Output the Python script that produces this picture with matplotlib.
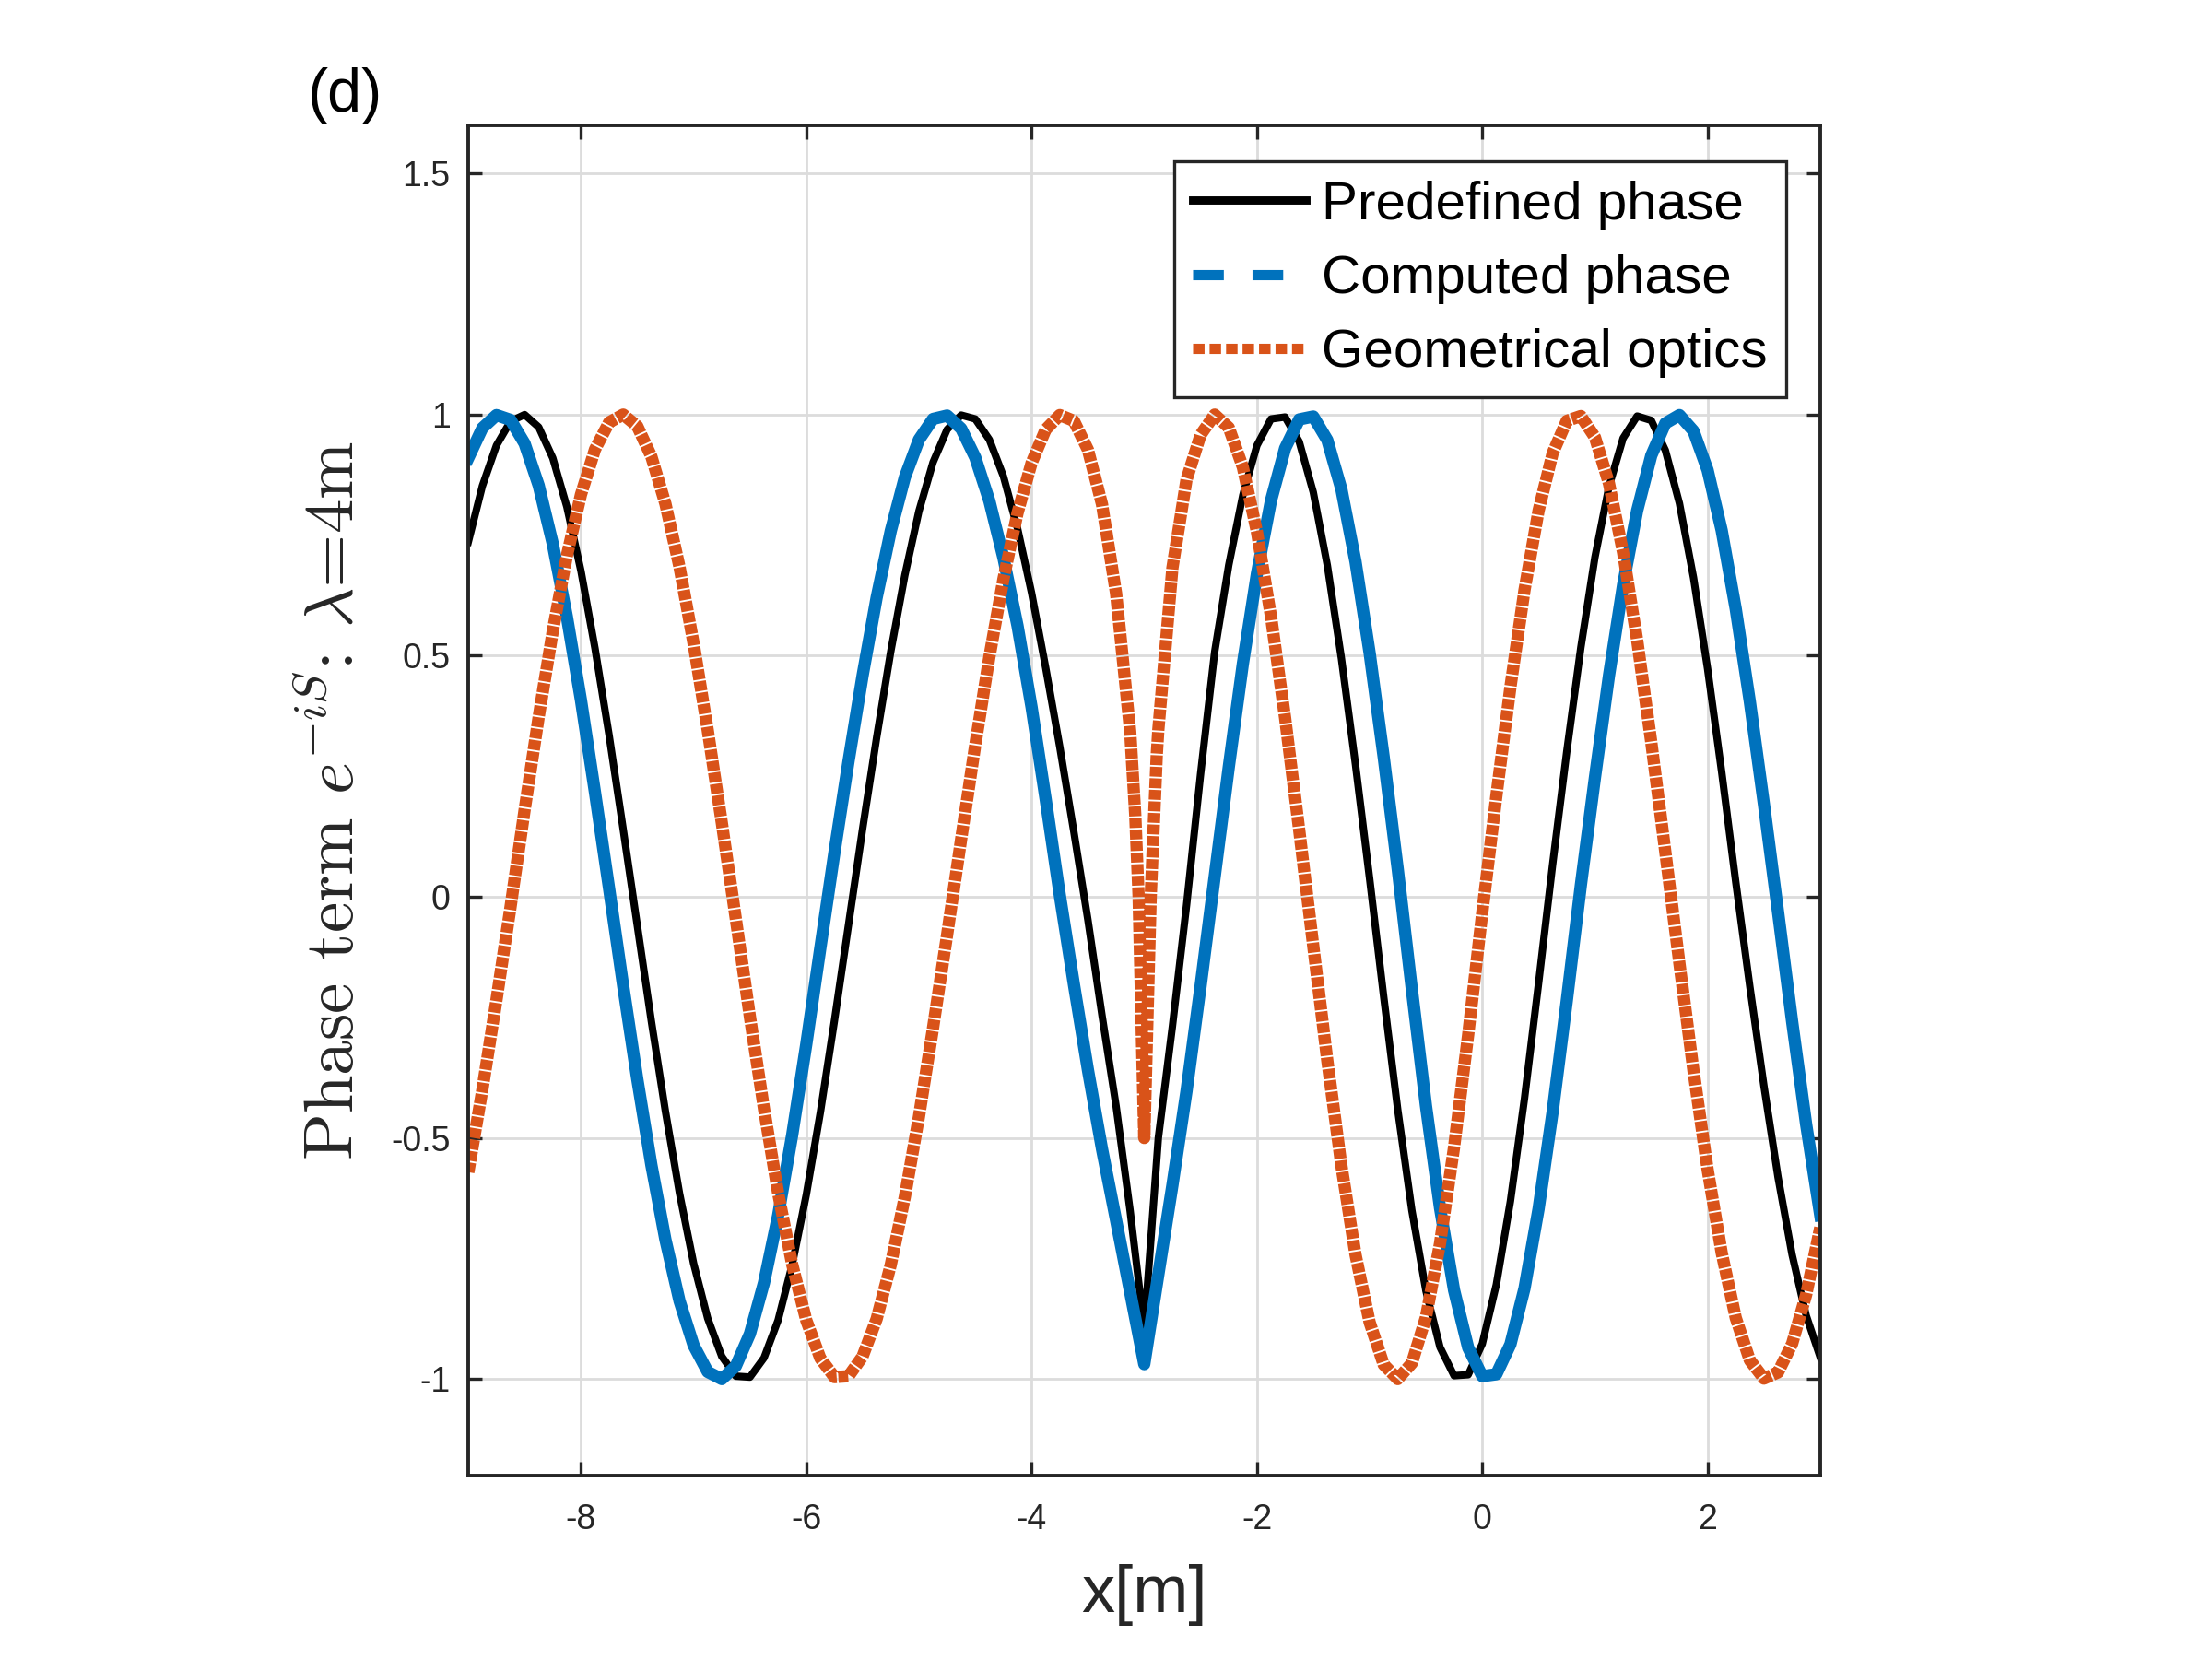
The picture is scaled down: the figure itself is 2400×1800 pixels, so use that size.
import numpy as np
import matplotlib.pyplot as plt
from matplotlib.lines import Line2D

# values every 0.125 m
x_samples = np.linspace(-9.0, 3.0, 97)

predefined_phase = [
    0.736, 0.852, 0.936, 0.986, 1.000, 0.974, 0.910, 0.809, 0.676, 0.515,
    0.335, 0.140, -0.059, -0.258, -0.445, -0.615, -0.760, -0.874, -0.953, -0.994,
    -0.996, -0.956, -0.878, -0.763, -0.618, -0.447, -0.257, -0.058, 0.141, 0.331,
    0.509, 0.667, 0.800, 0.901, 0.969, 0.999, 0.991, 0.948, 0.872, 0.764,
    0.630, 0.475, 0.311, 0.135, -0.048, -0.246, -0.434, -0.652, -0.896,
    -0.500, -0.268, -0.018, 0.255, 0.508, 0.688, 0.833, 0.936, 0.991, 0.995,
    0.944, 0.839, 0.687, 0.494, 0.274, 0.038, -0.207, -0.442, -0.650, -0.817,
    -0.934, -0.993, -0.991, -0.927, -0.804, -0.631, -0.418, -0.179, 0.068, 0.301,
    0.517, 0.704, 0.851, 0.951, 0.997, 0.988, 0.926, 0.816, 0.662, 0.473,
    0.259, 0.031, -0.186, -0.392, -0.581, -0.742, -0.868, -0.955,
]

computed_phase = [
    0.910, 0.972, 0.999, 0.989, 0.940, 0.853, 0.732, 0.581, 0.408, 0.216,
    0.017, -0.185, -0.378, -0.556, -0.711, -0.838, -0.930, -0.985, -1.000, -0.973,
    -0.906, -0.800, -0.661, -0.494, -0.306, -0.106, 0.092, 0.281, 0.459, 0.621,
    0.759, 0.870, 0.948, 0.991, 0.998, 0.971, 0.911, 0.821, 0.703, 0.562,
    0.393, 0.202, 0.004, -0.181, -0.359, -0.523, -0.671, -0.820, -0.969,
    -0.783, -0.598, -0.403, -0.185, 0.042, 0.269, 0.483, 0.670, 0.822, 0.930,
    0.990, 0.996, 0.947, 0.845, 0.695, 0.506, 0.290, 0.057, -0.192, -0.433,
    -0.645, -0.816, -0.935, -0.994, -0.990, -0.928, -0.812, -0.647, -0.445, -0.216,
    0.024, 0.247, 0.459, 0.647, 0.801, 0.915, 0.982, 0.999, 0.966, 0.885,
    0.760, 0.597, 0.405, 0.192, -0.031, -0.258, -0.472, -0.660,
]

# geometrical optics: left branch (x <= -3.125), the caustic near x = -3, right branch (x >= -2.875)
geo_left = [
    -0.571, -0.400, -0.214, -0.021, 0.180, 0.373, 0.551, 0.707, 0.834, 0.928,
    0.984, 1.000, 0.976, 0.913, 0.815, 0.684, 0.525, 0.346, 0.154, -0.046,
    -0.249, -0.440, -0.614, -0.762, -0.878, -0.957, -0.996, -0.994, -0.953, -0.875,
    -0.763, -0.622, -0.456, -0.272, -0.079, 0.120, 0.315, 0.497, 0.659, 0.796,
    0.900, 0.969, 0.999, 0.987, 0.927, 0.814, 0.629, 0.343,
]
geo_caustic_x = [-3.08, -3.05, -3.0, -2.943, -2.889]
geo_caustic_y = [0.170, 0.0, -0.5, 0.0, 0.295]
geo_right = [
    0.347, 0.682, 0.865, 0.958, 1.000, 0.973, 0.891, 0.757, 0.581, 0.371,
    0.139, -0.102, -0.340, -0.558, -0.742, -0.882, -0.970, -1.000, -0.967, -0.872,
    -0.719, -0.519, -0.286, -0.033, 0.209, 0.435, 0.636, 0.801, 0.920, 0.987,
    0.997, 0.953, 0.857, 0.714, 0.532, 0.321, 0.093, -0.138, -0.361, -0.565,
    -0.738, -0.873, -0.961, -0.999, -0.986, -0.927, -0.825, -0.686,
]

x_ticks = [-8, -6, -4, -2, 0, 2]
y_ticks = [-1, -0.5, 0, 0.5, 1, 1.5]
y_tick_labels = ["-1", "-0.5", "0", "0.5", "1", "1.5"]
series_labels = ["Predefined phase", "Computed phase", "Geometrical optics"]

BLACK = "#000000"
BLUE = "#0072BD"
ORANGE = "#D95319"
AXIS_GREY = "#262626"

plt.rcParams["font.family"] = ["Liberation Sans", "DejaVu Sans"]
plt.rcParams["mathtext.fontset"] = "cm"
plt.rcParams["axes.unicode_minus"] = False

geo_x = np.concatenate([x_samples[:48], geo_caustic_x, x_samples[49:]])
geo_y = np.concatenate([geo_left, geo_caustic_y, geo_right])

fig = plt.figure(figsize=(12, 9), dpi=200)
ax = fig.add_axes([0.2117, 0.1106, 0.6112, 0.8139])

ax.plot(x_samples, predefined_phase, color=BLACK, lw=2.9, solid_joinstyle="round")
ax.plot(x_samples, computed_phase, color=BLUE, lw=4.8, solid_joinstyle="round")
ax.plot(geo_x, geo_y, color=ORANGE, lw=4.8,
        linestyle=(0, (0.8, 0.14)), dash_capstyle="butt", dash_joinstyle="round")

ax.set_xlim(-9, 3)
ax.set_ylim(-1.2, 1.6)
ax.set_xticks(x_ticks)
ax.set_yticks(y_ticks)
ax.set_yticklabels(y_tick_labels)
ax.grid(True, color="#dcdcdc", lw=1.0)
ax.set_axisbelow(True)

ax.tick_params(direction="in", length=5.5, width=1.2, top=True, right=True,
               labelsize=13.5, colors=AXIS_GREY)
ax.tick_params(axis="x", pad=11)
ax.tick_params(axis="y", pad=7)
for spine in ax.spines.values():
    spine.set_linewidth(1.4)
    spine.set_color(AXIS_GREY)

ax.set_xlabel("x[m]", fontsize=26, color=AXIS_GREY, labelpad=10.5)
ax.set_ylabel(r"Phase term $e^{-iS}$: $\lambda$=4m", fontsize=27,
              family="cmr10", color=AXIS_GREY, labelpad=9)

# the blue line looks solid in the plot, only the legend shows the dashes
handles = [
    Line2D([], [], color=BLACK, lw=3.2),
    Line2D([], [], color=BLUE, lw=4.0, linestyle=(0, (3.0, 2.8)), dash_capstyle="butt"),
    Line2D([], [], color=ORANGE, lw=4.0, linestyle=(0, (1.12, 0.49)), dash_capstyle="butt"),
]
legend = ax.legend(handles, series_labels, loc="upper right", bbox_to_anchor=(0.975, 0.973),
                   fontsize=21, fancybox=False, framealpha=1, edgecolor=AXIS_GREY,
                   handlelength=2.1, handletextpad=0.3, labelspacing=0.45,
                   borderpad=0.35, borderaxespad=0)
legend.get_frame().set_linewidth(1.2)

fig.text(0.156, 0.942, "(d)", fontsize=24, ha="center", va="center")

fig.savefig("out.png", dpi=200)
